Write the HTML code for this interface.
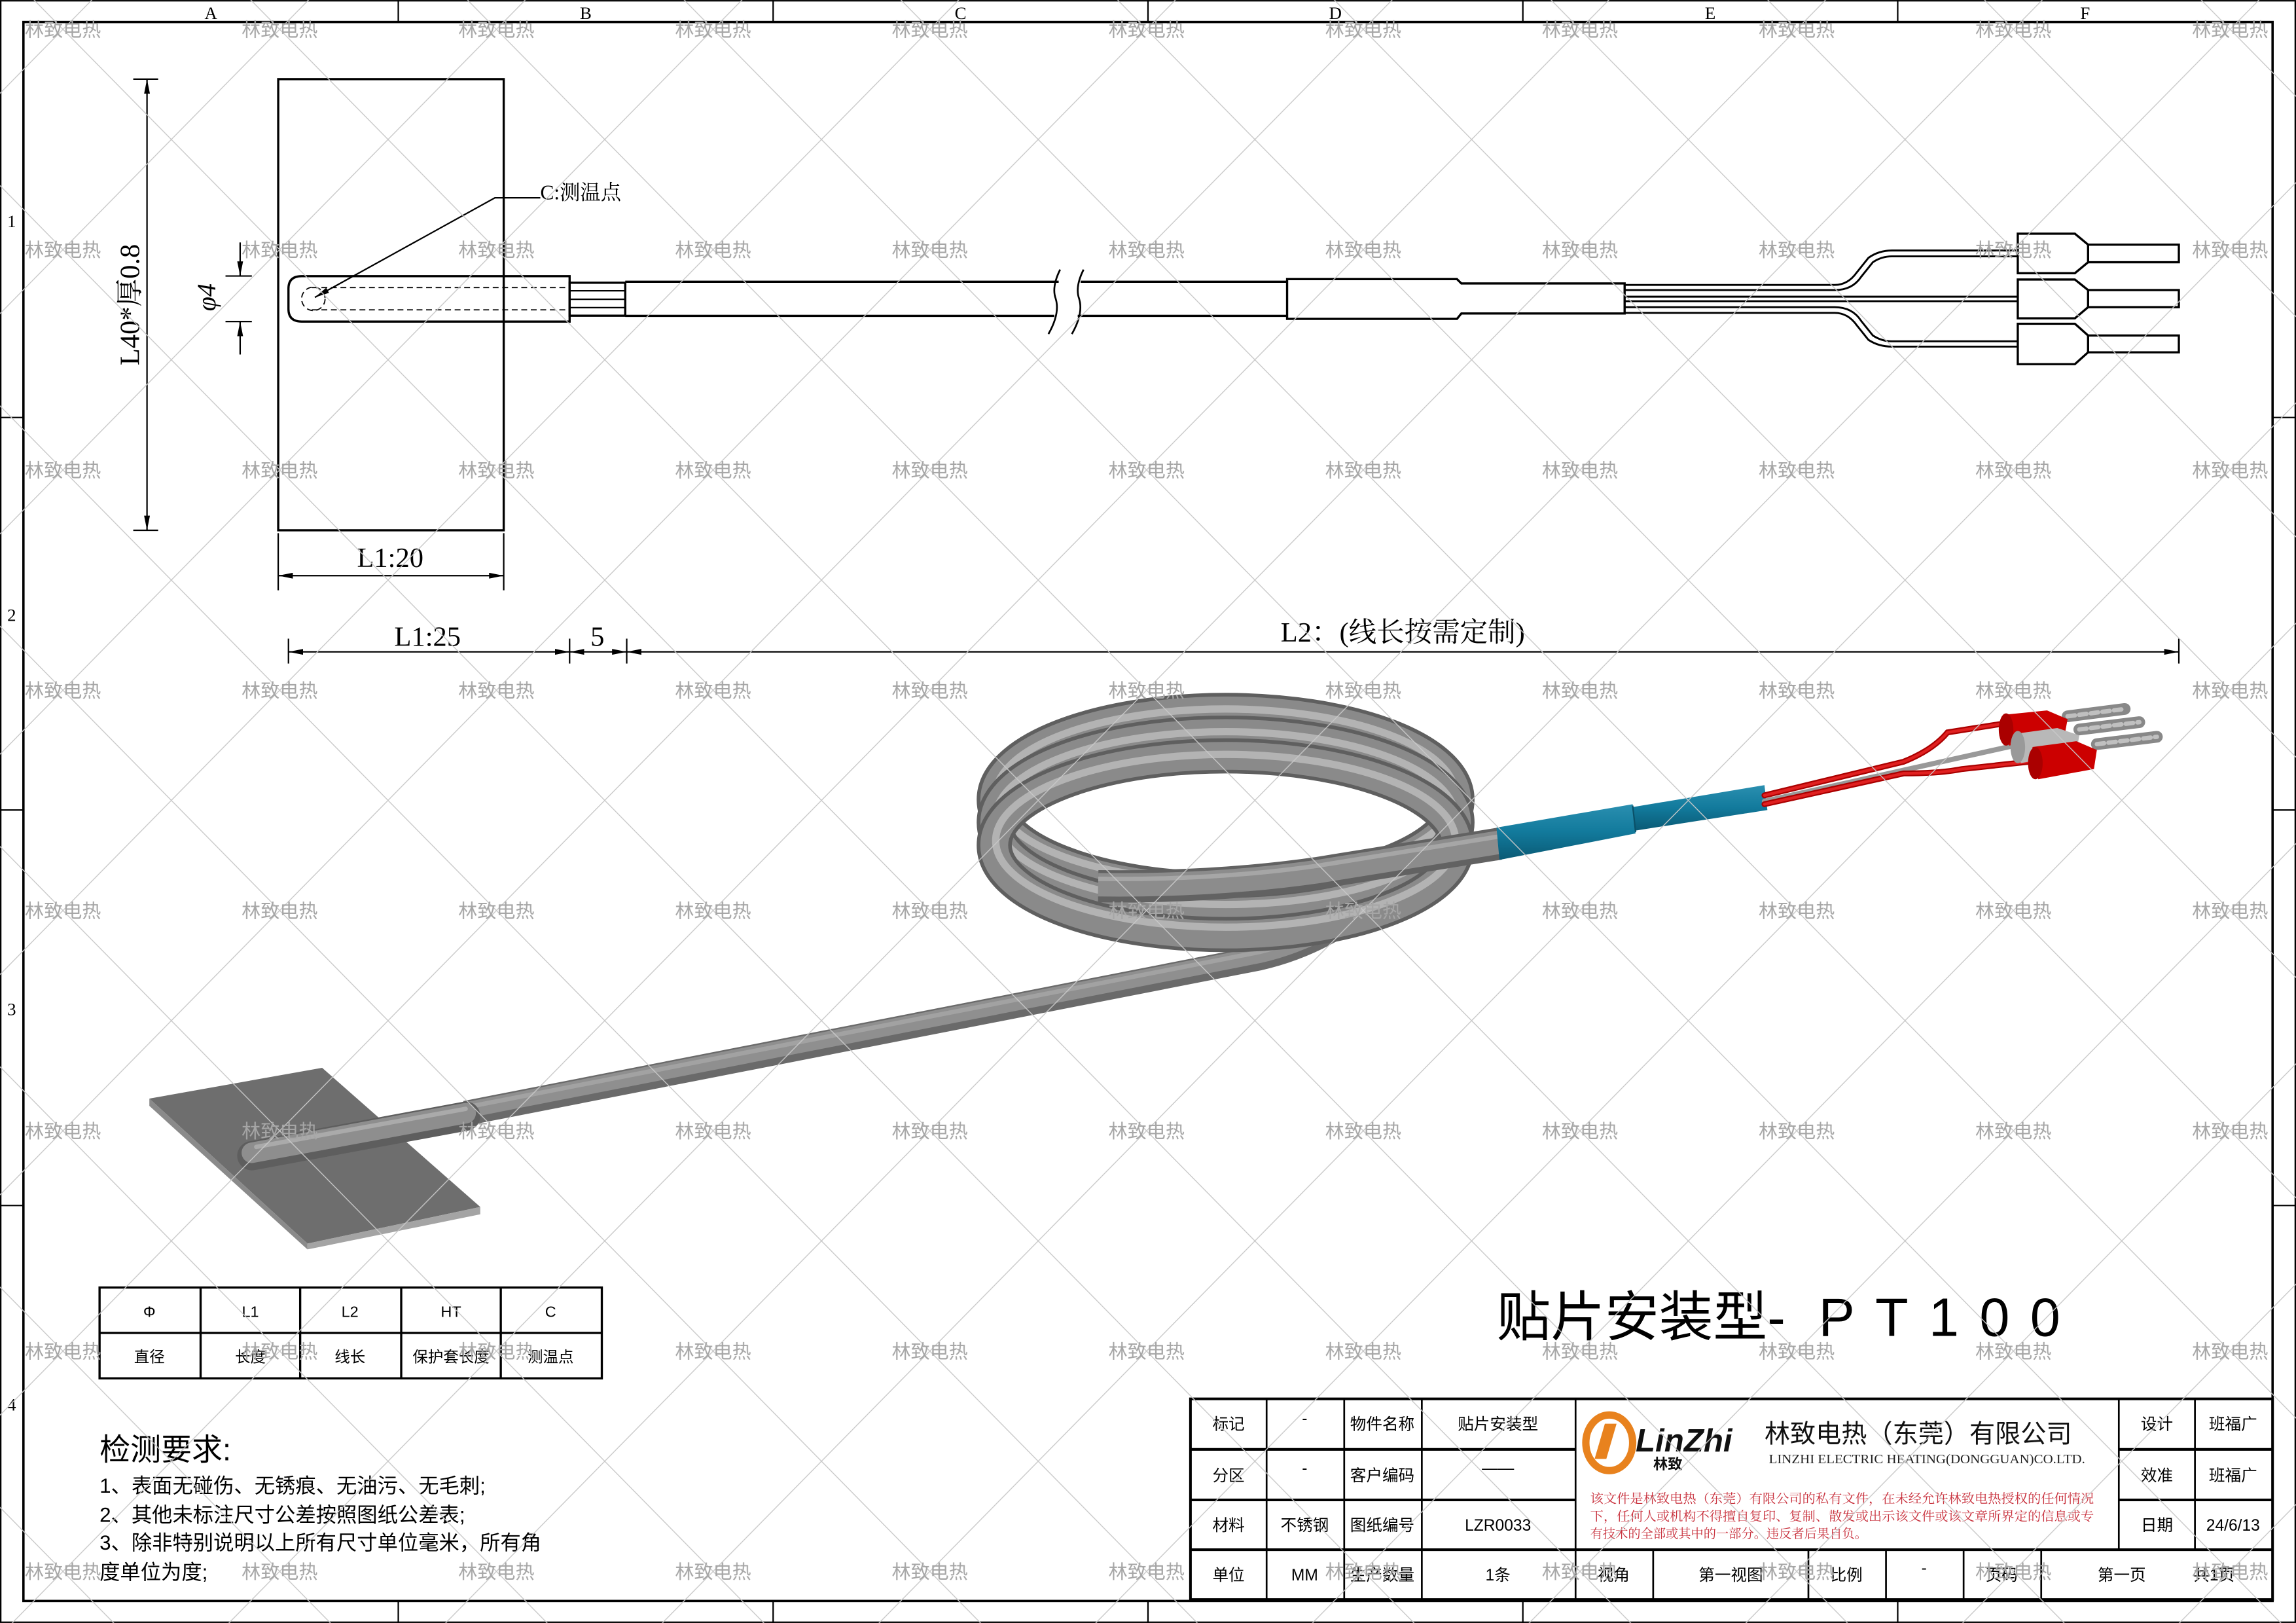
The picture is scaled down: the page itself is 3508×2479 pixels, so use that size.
<!DOCTYPE html>
<html><head><meta charset="utf-8"><style>
html,body{margin:0;padding:0;background:#fff;}
svg{display:block;}
.s{font-family:"Liberation Serif","Noto Serif CJK SC",serif;}
.h{font-family:"Liberation Sans","Noto Sans CJK SC",sans-serif;}
</style></head><body>
<svg xmlns="http://www.w3.org/2000/svg" width="3508" height="2479" viewBox="0 0 1568 1108">
<defs>
<pattern id="wm" patternUnits="userSpaceOnUse" x="-31" y="-55.2" width="148" height="150.4">
<line x1="0" y1="0" x2="148" y2="150.4" stroke="#c8c8c8" stroke-width="0.6"/>
<line x1="148" y1="0" x2="0" y2="150.4" stroke="#c8c8c8" stroke-width="0.6"/>
<text x="74" y="80" text-anchor="middle" font-size="13" fill="#a6a6a6" font-family="Liberation Sans,Noto Sans CJK SC,sans-serif">林致电热</text>
</pattern>
<marker id="ar" viewBox="0 0 10 4" refX="10" refY="2" markerWidth="10" markerHeight="4" markerUnits="userSpaceOnUse" orient="auto"><path d="M0,0 L10,2 L0,4z" fill="#000"/></marker>
<marker id="al" viewBox="0 0 10 4" refX="0" refY="2" markerWidth="10" markerHeight="4" markerUnits="userSpaceOnUse" orient="auto"><path d="M10,0 L0,2 L10,4z" fill="#000"/></marker>
<linearGradient id="blue" x1="0" y1="0" x2="0" y2="1"><stop offset="0" stop-color="#2a8fb0"/><stop offset="0.5" stop-color="#127a9c"/><stop offset="1" stop-color="#0a5a75"/></linearGradient>
</defs>
<rect width="1568" height="1108" fill="#fff"/>

<rect x="0.5" y="0.5" width="1567" height="1107" fill="none" stroke="#000" stroke-width="1"/>
<rect x="16" y="15" width="1536" height="1078" fill="none" stroke="#000" stroke-width="1.6"/>
<g stroke="#000" stroke-width="1">
<line x1="272" y1="0" x2="272" y2="15"/><line x1="528" y1="0" x2="528" y2="15"/><line x1="784" y1="0" x2="784" y2="15"/><line x1="1040" y1="0" x2="1040" y2="15"/><line x1="1296" y1="0" x2="1296" y2="15"/>
<line x1="272" y1="1093" x2="272" y2="1108"/><line x1="528" y1="1093" x2="528" y2="1108"/><line x1="784" y1="1093" x2="784" y2="1108"/><line x1="1040" y1="1093" x2="1040" y2="1108"/><line x1="1296" y1="1093" x2="1296" y2="1108"/>
<line x1="0" y1="285" x2="16" y2="285"/><line x1="0" y1="553" x2="16" y2="553"/><line x1="0" y1="823" x2="16" y2="823"/>
<line x1="1552" y1="285" x2="1568" y2="285"/><line x1="1552" y1="553" x2="1568" y2="553"/><line x1="1552" y1="823" x2="1568" y2="823"/>
</g>
<g class="s" font-size="12" text-anchor="middle">
<text x="144" y="13">A</text><text x="400" y="13">B</text><text x="656" y="13">C</text><text x="912" y="13">D</text><text x="1168" y="13">E</text><text x="1424" y="13">F</text>
<text x="8" y="155">1</text><text x="8" y="424">2</text><text x="8" y="693">3</text><text x="8" y="963">4</text>
</g>

<g fill="none" stroke="#000" stroke-width="1.5">
<rect x="190" y="54" width="154" height="308"/>
<path d="M389,188.5 L206,188.5 Q197,188.5 197,197 L197,211 Q197,219.5 206,219.5 L389,219.5 Z"/>
<rect x="389" y="193" width="38" height="22.5"/>
<line x1="389" y1="198.5" x2="427" y2="198.5" stroke-width="1"/>
<line x1="389" y1="204.3" x2="427" y2="204.3" stroke-width="1"/>
<line x1="389" y1="210" x2="427" y2="210" stroke-width="1"/>
<line x1="427" y1="192.3" x2="723" y2="192.3"/><line x1="427" y1="215.6" x2="720" y2="215.6"/>
<line x1="738" y1="192.3" x2="879" y2="192.3"/><line x1="736" y1="215.6" x2="879" y2="215.6"/>
<path d="M724,184 Q718,196 721,204 Q724,214 716,228" stroke-width="1.2"/>
<path d="M740,184 Q734,196 737,204 Q740,214 732,228" stroke-width="1.2"/>
<path d="M879,190.5 L995,190.5 L998,193.5 L1109.5,193.5 L1109.5,214 L998,214 L995,217.7 L879,217.7 Z"/>
<g stroke-width="1.3">
<path d="M1109.5,194.5 L1253,194.5 Q1262,194.5 1268,186 L1276,176 Q1283,171 1292,171 L1378,171"/>
<path d="M1109.5,198 L1253,198 Q1265,198 1271,189 L1279,179 Q1285,175 1292,175 L1378,175"/>
<line x1="1109.5" y1="202.5" x2="1378" y2="202.5"/><line x1="1109.5" y1="205.6" x2="1378" y2="205.6"/>
<path d="M1109.5,209.7 L1253,209.7 Q1265,209.7 1271,219 L1279,229 Q1285,233 1292,233 L1378,233"/>
<path d="M1109.5,213.6 L1253,213.6 Q1262,213.6 1268,222 L1276,232 Q1283,236.6 1292,236.6 L1378,236.6"/>
</g>
<path d="M1378,159.5 L1417,159.5 L1426,167 L1488,167 L1488,179 L1426,179 L1417,186.5 L1378,186.5 Z"/>
<line x1="1426" y1="167" x2="1426" y2="179"/>
<path d="M1378,190.8 L1417,190.8 L1426,198 L1488,198 L1488,209.7 L1426,209.7 L1417,217.3 L1378,217.3 Z"/>
<line x1="1426" y1="198" x2="1426" y2="209.7"/>
<path d="M1378,221 L1417,221 L1426,229 L1488,229 L1488,240.5 L1426,240.5 L1417,248.6 L1378,248.6 Z"/>
<line x1="1426" y1="229" x2="1426" y2="240.5"/>
</g>
<g fill="none" stroke="#000" stroke-width="0.8" stroke-dasharray="4,2.5">
<line x1="213" y1="196.3" x2="389" y2="196.3"/><line x1="213" y1="211.5" x2="389" y2="211.5"/>
<circle cx="214" cy="204" r="8"/>
</g>
<polyline points="215,203 338,135 369,135" fill="none" stroke="#000" stroke-width="1" marker-start="url(#al)"/>
<text x="369" y="136" class="s" font-size="14">C:测温点</text>

<g stroke="#000" stroke-width="1" fill="none">
<line x1="91" y1="54" x2="108" y2="54"/><line x1="91" y1="362" x2="108" y2="362"/>
<line x1="100.4" y1="54" x2="100.4" y2="362" marker-start="url(#al)" marker-end="url(#ar)"/>
<line x1="154" y1="188.4" x2="172" y2="188.4"/><line x1="154" y1="219.5" x2="172" y2="219.5"/>
<line x1="164" y1="165.5" x2="164" y2="188.4" marker-end="url(#ar)"/>
<line x1="164" y1="242" x2="164" y2="219.5" marker-end="url(#ar)"/>
<line x1="190" y1="364" x2="190" y2="403"/><line x1="344" y1="364" x2="344" y2="403"/>
<line x1="190" y1="393" x2="344" y2="393" marker-start="url(#al)" marker-end="url(#ar)"/>
<line x1="197" y1="436" x2="197" y2="453"/><line x1="389" y1="436" x2="389" y2="453"/><line x1="428" y1="436" x2="428" y2="453"/><line x1="1488" y1="436" x2="1488" y2="453"/>
<line x1="197" y1="445" x2="389" y2="445" marker-start="url(#al)" marker-end="url(#ar)"/>
<line x1="389" y1="445" x2="428" y2="445" marker-start="url(#al)" marker-end="url(#ar)"/>
<line x1="428" y1="445" x2="1488" y2="445" marker-start="url(#al)" marker-end="url(#ar)"/>
</g>
<text class="s" font-size="19" transform="translate(95,208) rotate(-90)" text-anchor="middle">L40*厚0.8</text>
<text class="s" font-size="18" transform="translate(147,203) rotate(-90)" text-anchor="middle" font-style="italic">φ4</text>
<text class="s" font-size="19" x="266.5" y="387" text-anchor="middle">L1:20</text>
<text class="s" font-size="19" x="292" y="441" text-anchor="middle">L1:25</text>
<text class="s" font-size="19" x="408" y="441" text-anchor="middle">5</text>
<text class="s" font-size="19" x="958" y="438" text-anchor="middle">L2：(线长按需定制)</text>

<g fill="none" stroke-linecap="butt">
<path d="M318,760 L860,654 Q895,646 925,625" stroke="#6a6a6a" stroke-width="17"/>
<path d="M318,758 L860,652 Q895,644 925,623" stroke="#8f8f8f" stroke-width="11"/>
<path d="M318,756 L860,650 Q893,642 923,621" stroke="#a2a2a2" stroke-width="3"/>
</g>
<g fill="none">
<ellipse cx="837" cy="546" rx="158" ry="61" stroke="#5f5f5f" stroke-width="24"/>
<ellipse cx="837" cy="546" rx="158" ry="61" stroke="#8a8a8a" stroke-width="19"/>
<ellipse cx="837" cy="543" rx="157" ry="59" stroke="#b3b3b3" stroke-width="5"/>
<ellipse cx="837" cy="561.5" rx="158" ry="61" stroke="#5f5f5f" stroke-width="24"/>
<ellipse cx="837" cy="561.5" rx="158" ry="61" stroke="#8a8a8a" stroke-width="19"/>
<ellipse cx="837" cy="558.5" rx="157" ry="59" stroke="#b3b3b3" stroke-width="5"/>
<ellipse cx="837" cy="577" rx="158" ry="61" stroke="#5f5f5f" stroke-width="24"/>
<ellipse cx="837" cy="577" rx="158" ry="61" stroke="#8a8a8a" stroke-width="19"/>
<ellipse cx="837" cy="574" rx="157" ry="59" stroke="#b3b3b3" stroke-width="5"/>
<path d="M750,605 Q830,606 900,596 L1024,576" stroke="#626262" stroke-width="22"/>
<path d="M750,604 Q830,605 900,595 L1024,575" stroke="#8c8c8c" stroke-width="16"/>
<path d="M750,600 Q830,601 900,591 L1024,571" stroke="#a6a6a6" stroke-width="3"/>
</g>
<polygon points="102,750 220,729 328,824 210,849" fill="#6e6e6e"/>
<polygon points="102,750 210,849 210,853 102,755" fill="#8a8a8a"/>
<polygon points="210,849 328,824 328,829 210,853" fill="#a4a4a4"/>
<g stroke-linecap="round" fill="none">
<line x1="318" y1="762" x2="172" y2="789" stroke="#5e5e5e" stroke-width="20"/>
<line x1="318" y1="760" x2="172" y2="787" stroke="#8e8e8e" stroke-width="14"/>
<line x1="318" y1="757" x2="175" y2="783" stroke="#aaaaaa" stroke-width="3"/>
</g>
<polygon points="1022,565 1115,549 1117,569 1024,587" fill="url(#blue)"/>
<polygon points="1115,551 1205,536 1207,553 1117,567" fill="url(#blue)"/>
<line x1="1115" y1="550" x2="1117" y2="568" stroke="#0a5068" stroke-width="1"/>
<g fill="none" stroke-linecap="round">
<path d="M1205,543 L1300,520 Q1320,512 1330,500 L1368,494" stroke="#a00" stroke-width="4"/>
<path d="M1205,543 L1300,520 Q1320,512 1330,500 L1368,494" stroke="#e02020" stroke-width="2"/>
<path d="M1205,547 L1380,508" stroke="#999" stroke-width="3.5"/>
<path d="M1205,549 L1300,528 Q1325,528 1340,525 L1386,520" stroke="#a00" stroke-width="4"/>
<path d="M1205,549 L1300,528 Q1325,528 1340,525 L1386,520" stroke="#e02020" stroke-width="2"/>
</g>
<g stroke-linecap="round">
<line x1="1412" y1="489" x2="1451" y2="484" stroke="#888" stroke-width="8"/>
<line x1="1412" y1="489" x2="1451" y2="484" stroke="#c0c0c0" stroke-width="3" stroke-dasharray="5,3"/>
<line x1="1420" y1="498" x2="1461" y2="493" stroke="#888" stroke-width="8"/>
<line x1="1420" y1="498" x2="1461" y2="493" stroke="#c0c0c0" stroke-width="3" stroke-dasharray="5,3"/>
<line x1="1432" y1="508" x2="1473" y2="503" stroke="#888" stroke-width="8"/>
<line x1="1432" y1="508" x2="1473" y2="503" stroke="#c0c0c0" stroke-width="3" stroke-dasharray="5,3"/>
</g>
<path d="M1368,488 L1398,485 L1412,491 L1410,502 L1372,509 Z" fill="#c00"/>
<ellipse cx="1370" cy="498" rx="5" ry="11" fill="#a00"/>
<path d="M1376,501 L1405,497 L1420,502 L1418,514 L1380,521 Z" fill="#b8b8b8"/>
<ellipse cx="1378" cy="510" rx="5" ry="11" fill="#999"/>
<path d="M1388,510 L1418,506 L1432,512 L1430,525 L1392,532 Z" fill="#c00"/>
<ellipse cx="1390" cy="521" rx="5" ry="11" fill="#a00"/>

<text class="h" x="1022" y="912" font-size="37">贴片安装型-</text>
<text class="h" x="1242" y="912" font-size="37" letter-spacing="14">PT100</text>

<g stroke="#000" stroke-width="1.5" fill="none">
<rect x="68" y="879" width="343" height="62"/>
<line x1="68" y1="910" x2="411" y2="910"/>
<line x1="137" y1="879" x2="137" y2="941"/><line x1="205" y1="879" x2="205" y2="941"/><line x1="274" y1="879" x2="274" y2="941"/><line x1="342" y1="879" x2="342" y2="941"/>
</g>
<g class="h" font-size="10.5" text-anchor="middle">
<text x="102" y="899">Φ</text><text x="171" y="899">L1</text><text x="239" y="899">L2</text><text x="308" y="899">HT</text><text x="376" y="899">C</text>
<text x="102" y="930">直径</text><text x="171" y="930">长度</text><text x="239" y="930">线长</text><text x="308" y="930">保护套长度</text><text x="376" y="930">测温点</text>
</g>
<g class="h">
<text x="68" y="997" font-size="21">检测要求:</text>
<text x="68" y="1019" font-size="14">1、表面无碰伤、无锈痕、无油污、无毛刺;</text>
<text x="68" y="1039" font-size="14">2、其他未标注尺寸公差按照图纸公差表;</text>
<text x="68" y="1058" font-size="14">3、除非特别说明以上所有尺寸单位毫米，所有角</text>
<text x="68" y="1078" font-size="14">度单位为度;</text>
</g>

<g stroke="#000" fill="none">
<rect x="813" y="955" width="739" height="137" stroke-width="1.8"/>
<line x1="813" y1="989.5" x2="1076" y2="989.5" stroke-width="1.8"/>
<line x1="813" y1="1024" x2="1076" y2="1024" stroke-width="1.8"/>
<line x1="813" y1="1058" x2="1552" y2="1058" stroke-width="1.8"/>
<line x1="1447" y1="989.5" x2="1552" y2="989.5" stroke-width="1.8"/>
<line x1="1447" y1="1024" x2="1552" y2="1024" stroke-width="1.8"/>
<g stroke-width="1.2">
<line x1="865" y1="955" x2="865" y2="1092"/><line x1="918" y1="955" x2="918" y2="1092"/><line x1="971" y1="955" x2="971" y2="1092"/>
<line x1="1076" y1="955" x2="1076" y2="1092"/><line x1="1447" y1="955" x2="1447" y2="1058"/><line x1="1499" y1="955" x2="1499" y2="1058"/>
<line x1="1129" y1="1058" x2="1129" y2="1092"/><line x1="1235" y1="1058" x2="1235" y2="1092"/><line x1="1288" y1="1058" x2="1288" y2="1092"/><line x1="1341" y1="1058" x2="1341" y2="1092"/><line x1="1394" y1="1058" x2="1394" y2="1092"/>
</g>
</g>
<g class="h" font-size="11" text-anchor="middle">
<text x="839" y="976">标记</text><text x="891" y="972">-</text><text x="944" y="976">物件名称</text><text x="1023" y="976">贴片安装型</text>
<text x="839" y="1011">分区</text><text x="891" y="1006">-</text><text x="944" y="1011">客户编码</text><text x="1023" y="1006">——</text>
<text x="839" y="1045">材料</text><text x="891" y="1045">不锈钢</text><text x="944" y="1045">图纸编号</text><text x="1023" y="1045">LZR0033</text>
<text x="839" y="1079">单位</text><text x="891" y="1079">MM</text><text x="944" y="1079">生产数量</text><text x="1023" y="1079">1条</text>
<text x="1102" y="1079">视角</text><text x="1182" y="1079">第一视图</text><text x="1261" y="1079">比例</text><text x="1314" y="1074">-</text><text x="1367" y="1079">页码</text><text x="1449" y="1079">第一页</text><text x="1512" y="1079">共1页</text>
<text x="1473" y="976">设计</text><text x="1525" y="976">班福广</text>
<text x="1473" y="1011">效准</text><text x="1525" y="1011">班福广</text>
<text x="1473" y="1045">日期</text><text x="1525" y="1045">24/6/13</text>
</g>
<ellipse cx="1099" cy="985" rx="16" ry="19" fill="none" stroke="#e8821e" stroke-width="5"/>
<path d="M1096,972 L1104,972 L1097,996 L1089,996 Z" fill="#e8821e"/>
<text x="1117" y="991" class="h" font-size="22" font-weight="bold" font-style="italic" fill="#111">LinZhi</text>
<text x="1129" y="1003" class="h" font-size="10" font-weight="bold" fill="#111">林致</text>
<text x="1205" y="985" class="h" font-size="17.5" fill="#111">林致电热（东莞）有限公司</text>
<text x="1208" y="999" class="s" font-size="9" fill="#222" textLength="216" lengthAdjust="spacingAndGlyphs">LINZHI ELECTRIC HEATING(DONGGUAN)CO.LTD.</text>
<g class="s" font-size="8.6" fill="#c8303c">
<text x="1086" y="1026" textLength="344" lengthAdjust="spacingAndGlyphs">该文件是林致电热（东莞）有限公司的私有文件，在未经允许林致电热授权的任何情况</text>
<text x="1086" y="1038" textLength="344" lengthAdjust="spacingAndGlyphs">下，任何人或机构不得擅自复印、复制、散发或出示该文件或该文章所界定的信息或专</text>
<text x="1086" y="1050">有技术的全部或其中的一部分。违反者后果自负。</text>
</g>

<rect x="0" y="0" width="1568" height="1108" fill="url(#wm)"/>
</svg>
</body></html>
